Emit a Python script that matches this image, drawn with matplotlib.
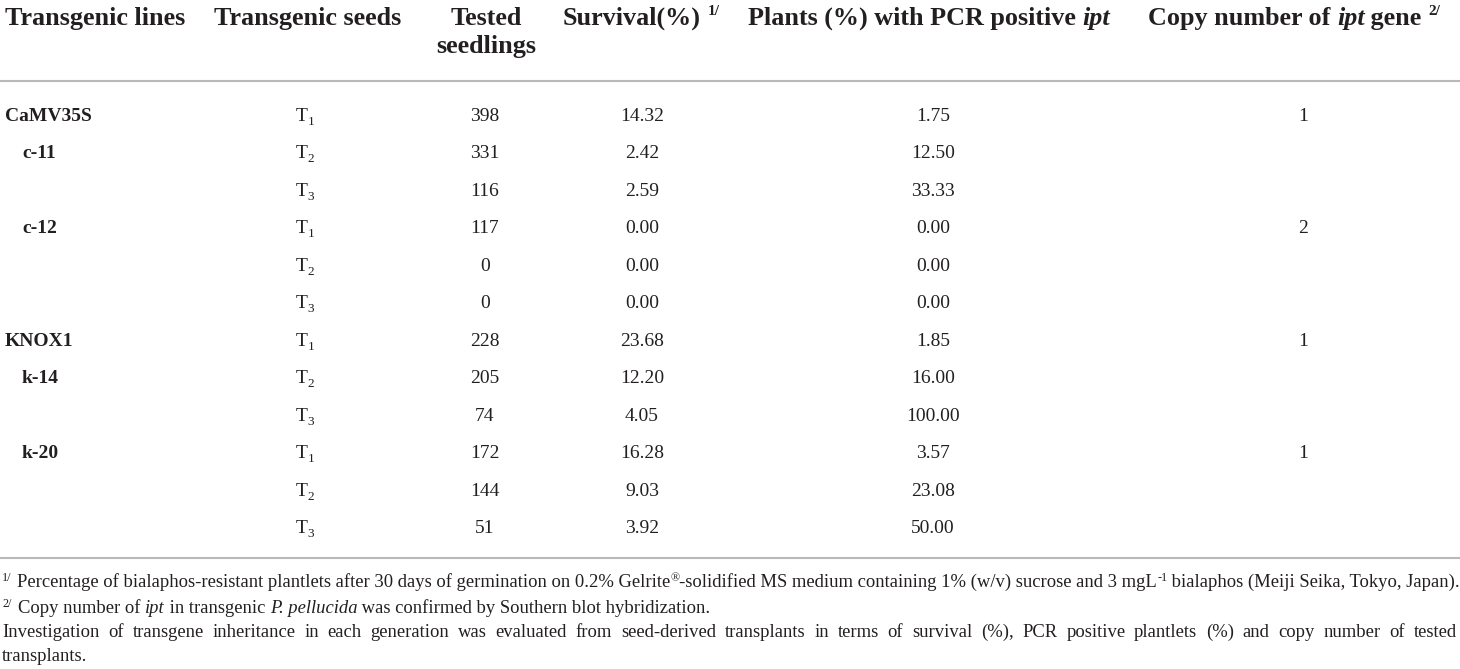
import matplotlib
matplotlib.use("Agg")
import matplotlib.pyplot as plt

# Table content
line_names = ["CaMV35S", "c-11", "", "c-12", "", "", "KNOX1", "k-14", "", "k-20", "", ""]
line_indent = [0, 1, 0, 1, 0, 0, 0, 1, 0, 1, 0, 0]
generations = [1, 2, 3, 1, 2, 3, 1, 2, 3, 1, 2, 3]
tested = [398, 331, 116, 117, 0, 0, 228, 205, 74, 172, 144, 51]
survival = [14.32, 2.42, 2.59, 0.00, 0.00, 0.00, 23.68, 12.20, 4.05, 16.28, 9.03, 3.92]
pcr_positive = [1.75, 12.50, 33.33, 0.00, 0.00, 0.00, 1.85, 16.00, 100.00, 3.57, 23.08, 50.00]
copy_number = ["1", "", "", "2", "", "", "1", "", "", "1", "", ""]

FONT = "Liberation Serif"
INK = "#231f20"
RULE = "#b9b9b9"

fig = plt.figure(figsize=(14.6, 6.69), dpi=100)
ax = fig.add_axes([0, 0, 1, 1])
ax.set_xlim(0, 1460)
ax.set_ylim(669, 0)
ax.axis("off")
renderer = fig.canvas.get_renderer()


def width(s, size, weight="normal", style="normal"):
    # measure with a sentinel so trailing spaces count
    a = ax.text(0, 0, s + "|", fontsize=size, fontweight=weight, fontstyle=style, family=FONT)
    b = ax.text(0, 0, "|", fontsize=size, fontweight=weight, fontstyle=style, family=FONT)
    w = a.get_window_extent(renderer).width - b.get_window_extent(renderer).width
    a.remove()
    b.remove()
    return w


def draw_runs(x, y, runs, ha="left"):
    # runs: (text, size, weight, style, rise)
    ws = [width(r[0], r[1], r[2], r[3]) for r in runs]
    total = sum(ws)
    if ha == "center":
        x = x - total / 2
    for (s, size, weight, style, rise), w in zip(runs, ws):
        ax.text(x, y - rise, s, fontsize=size, fontweight=weight, fontstyle=style,
                family=FONT, color=INK, ha="left", va="baseline")
        x += w
    return total


# header
HS = 18.8
draw_runs(5, 25, [("Transgenic lines", HS, "bold", "normal", 0)])
draw_runs(308, 25, [("Transgenic seeds", HS, "bold", "normal", 0)], ha="center")
draw_runs(486, 25, [("Tested", HS, "bold", "normal", 0)], ha="center")
draw_runs(486, 53, [("seedlings", HS, "bold", "normal", 0)], ha="center")
draw_runs(563, 25, [("Survival(%)", HS, "bold", "normal", 0),
                    (" ", HS, "bold", "normal", 0),
                    ("1/", 11, "bold", "normal", 10)])
draw_runs(748, 25, [("Plants (%) with PCR positive ", HS, "bold", "normal", 0),
                    ("ipt", HS, "bold", "italic", 0)])
draw_runs(1148, 25, [("Copy number of ", HS, "bold", "normal", 0),
                     ("ipt", HS, "bold", "italic", 0),
                     (" gene ", HS, "bold", "normal", 0),
                     ("2/", 11, "bold", "normal", 10)])

ax.plot([0, 1460], [81, 81], color=RULE, lw=1.5, solid_capstyle="butt")

# body
BS = 14
y0, dy = 121, 37.45
for i in range(len(tested)):
    y = y0 + i * dy
    if line_names[i]:
        draw_runs(5 + 17 * line_indent[i], y, [(line_names[i], BS, "bold", "normal", 0)])
    draw_runs(305, y, [("T", BS, "normal", "normal", 0),
                       (str(generations[i]), 9.5, "normal", "normal", -4)], ha="center")
    draw_runs(485, y, [(str(tested[i]), BS, "normal", "normal", 0)], ha="center")
    draw_runs(642, y, [(f"{survival[i]:.2f}", BS, "normal", "normal", 0)], ha="center")
    draw_runs(933, y, [(f"{pcr_positive[i]:.2f}", BS, "normal", "normal", 0)], ha="center")
    if copy_number[i]:
        draw_runs(1303, y, [(copy_number[i], BS, "normal", "normal", 0)], ha="center")

ax.plot([0, 1460], [558, 558], color=RULE, lw=1.5, solid_capstyle="butt")

# footnotes, size fitted so the first note fills the width
def note1(fs):
    sup = fs * 0.65
    return [("Percentage of bialaphos-resistant plantlets after 30 days of germination on 0.2% Gelrite",
             fs, "normal", "normal", 0),
            ("®", sup, "normal", "normal", fs * 0.45),
            ("-solidified MS medium containing 1% (w/v) sucrose and 3 mgL", fs, "normal", "normal", 0),
            ("-1", sup, "normal", "normal", fs * 0.45),
            (" bialaphos (Meiji Seika, Tokyo, Japan).", fs, "normal", "normal", 0)]


w10 = sum(width(r[0], r[1], r[2], r[3]) for r in note1(10))
FS = 10 * (1457 - 17) / w10
SUP = FS * 0.65

draw_runs(2, 587, [("1/", SUP, "normal", "normal", FS * 0.45)])
draw_runs(17, 587, note1(FS))
draw_runs(2, 613, [("2/", SUP, "normal", "normal", FS * 0.45)])
draw_runs(18, 613, [("Copy number of ", FS, "normal", "normal", 0),
                    ("ipt", FS, "normal", "italic", 0),
                    (" in transgenic ", FS, "normal", "normal", 0),
                    ("P. pellucida", FS, "normal", "italic", 0),
                    (" was confirmed by Southern blot hybridization.", FS, "normal", "normal", 0)])

words = ("Investigation of transgene inheritance in each generation was evaluated from "
         "seed-derived transplants in terms of survival (%), PCR positive plantlets (%) "
         "and copy number of tested").split()
ww = [width(w, FS) for w in words]
gap = (1457 - 2 - sum(ww)) / (len(words) - 1)
x = 2
for w, wd in zip(words, ww):
    ax.text(x, 637, w, fontsize=FS, family=FONT, color=INK, ha="left", va="baseline")
    x += wd + gap
draw_runs(2, 661, [("transplants.", FS, "normal", "normal", 0)])

fig.savefig("out.png", dpi=100)
